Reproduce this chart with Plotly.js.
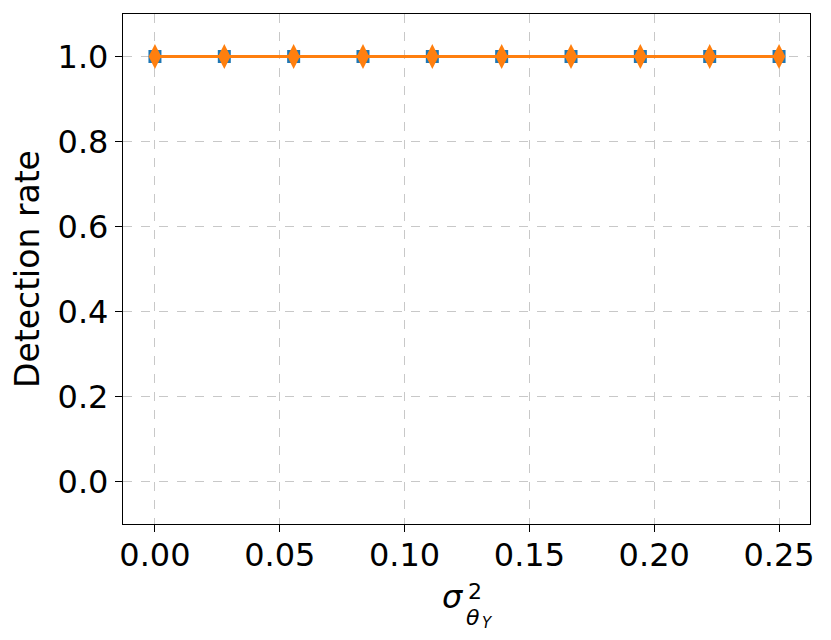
<!DOCTYPE html>
<html>
<head>
<meta charset="utf-8">
<script src="https://cdn.plot.ly/plotly-3.0.1.min.js"></script>
<style>
  body { margin: 0; background: #fff; }
  #chart { width: 831px; height: 640px; }
</style>
</head>
<body>
<div id="chart"></div>
<script>
// variance values on the x axis
const sigma2 = [0.0, 0.02778, 0.05556, 0.08333, 0.11111, 0.13889, 0.16667, 0.19444, 0.22222, 0.25];
const rateA = [1, 1, 1, 1, 1, 1, 1, 1, 1, 1];
const rateB = [1, 1, 1, 1, 1, 1, 1, 1, 1, 1];

const xTicks = [0.0, 0.05, 0.10, 0.15, 0.20, 0.25];
const yTicks = [0.0, 0.2, 0.4, 0.6, 0.8, 1.0];

const traces = [
    {
        x: sigma2,
        y: rateA,
        mode: 'lines+markers',
        line: { color: '#1f77b4', width: 2.5 },
        marker: { symbol: 'square', size: 13, color: '#1f77b4' },
        showlegend: false
    },
    {
        x: sigma2,
        y: rateB,
        mode: 'lines+markers',
        line: { color: '#ff7f0e', width: 3 },
        marker: { symbol: 'diamond-tall', size: 18, color: '#ff7f0e' },
        showlegend: false
    }
];

const axisCommon = {
    showline: true,
    mirror: true,
    linecolor: '#000',
    linewidth: 1.3,
    ticks: 'outside',
    ticklen: 7,
    tickwidth: 1.3,
    tickcolor: '#000',
    showgrid: true,
    gridcolor: '#c8c8c8',
    griddash: 'dash',
    gridwidth: 1,
    zeroline: false,
    tickfont: { family: 'DejaVu Sans', size: 32, color: '#000' }
};

// x axis label sigma^2_{theta_Y}, built from pieces so the 2 sits above theta
const mathFont = (size) => ({ family: 'DejaVu Sans', size: size, color: '#000' });
const xLabel = [
    { text: '<i>σ</i>', x: 453, y: 597, size: 32, anchor: 'middle' },
    { text: '2', x: 474.5, y: 605, size: 22, anchor: 'bottom' },
    { text: '<i>θ</i>', x: 473, y: 604, size: 22, anchor: 'top' },
    { text: '<i>Y</i>', x: 487, y: 623, size: 15, anchor: 'middle' }
];
const px2paperX = (p) => (p - 123) / 687;
const px2paperY = (p) => (524 - p) / 510;

const layout = {
    width: 831,
    height: 640,
    paper_bgcolor: '#fff',
    plot_bgcolor: '#fff',
    margin: { l: 123, r: 21, t: 14, b: 116 },
    xaxis: Object.assign({}, axisCommon, {
        range: [-0.0128, 0.2624],
        tickvals: xTicks,
        ticktext: xTicks.map(v => v.toFixed(2)),
        ticklabelstandoff: -5
    }),
    yaxis: Object.assign({}, axisCommon, {
        range: [-0.1, 1.1],
        tickvals: yTicks,
        ticktext: yTicks.map(v => v.toFixed(1)),
        title: {
            text: 'Detection rate',
            font: { family: 'DejaVu Sans', size: 33, color: '#000' },
            standoff: 8
        }
    }),
    annotations: xLabel.map(a => ({
        text: a.text,
        xref: 'paper', yref: 'paper',
        x: px2paperX(a.x), y: px2paperY(a.y),
        xanchor: 'center', yanchor: a.anchor,
        borderpad: 0,
        showarrow: false,
        font: mathFont(a.size)
    }))
};

Plotly.newPlot('chart', traces, layout, { displayModeBar: false });
</script>
</body>
</html>
